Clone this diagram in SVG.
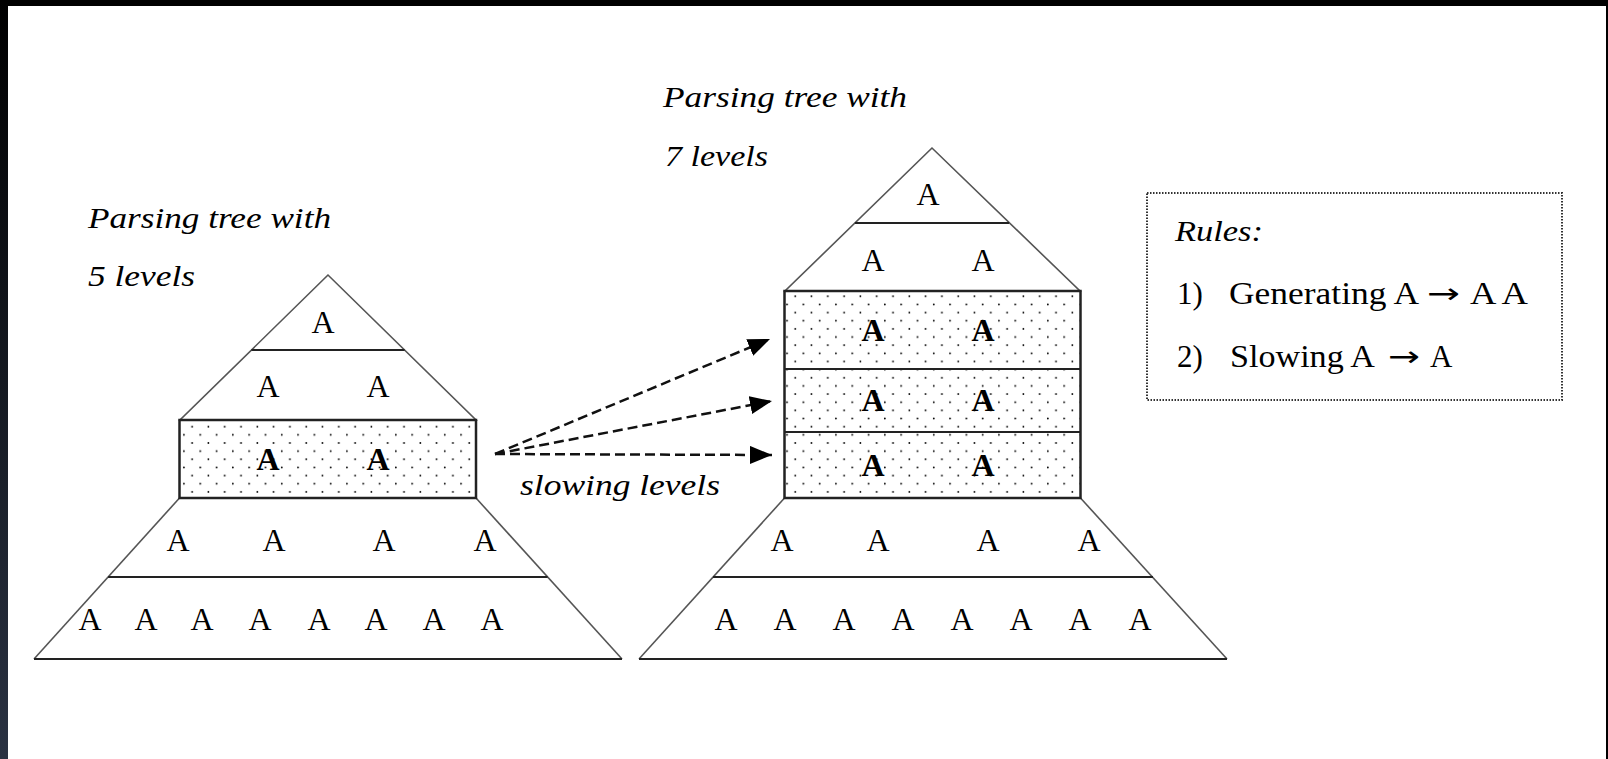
<svg xmlns="http://www.w3.org/2000/svg" width="1608" height="759" viewBox="0 0 1608 759">
<style>
.edge{fill:none;stroke:#555;stroke-width:1.6}
.div{stroke:#222;stroke-width:2.2}
.box{stroke:#222;stroke-width:2.5}
.a{font-family:"Liberation Serif","Times New Roman",serif;font-size:32px;fill:#000;text-anchor:middle}
.ab{font-weight:bold}
.it{font-family:"Liberation Serif","Times New Roman",serif;font-style:italic;font-size:30px;fill:#000}
.rt{font-family:"Liberation Serif","Times New Roman",serif;font-size:31px;fill:#000}
.arr{font-family:"DejaVu Sans",sans-serif;font-size:28px;fill:#000}
.conn{fill:none;stroke:#111;stroke-width:2.5;stroke-dasharray:10 5}
</style>
<defs>
<pattern id="dots" patternUnits="userSpaceOnUse" x="0" y="0" width="16.3" height="16.3">
<circle cx="12.8" cy="2.9" r="0.9" fill="#000"/>
<circle cx="4.65" cy="11.05" r="0.9" fill="#000"/>
</pattern>
<marker id="ah" markerUnits="userSpaceOnUse" markerWidth="22" markerHeight="18" refX="22" refY="9" orient="auto">
<path d="M0,0 L22,9 L0,18 Z" fill="#000"/>
</marker>
<linearGradient id="lg" x1="0" y1="0" x2="0" y2="1">
<stop offset="0" stop-color="#000"/>
<stop offset="1" stop-color="#2a3242"/>
</linearGradient>
</defs>
<rect x="0" y="0" width="1608" height="759" fill="#fff"/>
<rect x="0" y="0" width="1608" height="6" fill="#000"/>
<rect x="0" y="0" width="8" height="759" fill="url(#lg)"/>
<rect x="1606" y="0" width="2" height="759" fill="#000"/>

<g id="tree5">
<polygon class="edge" points="328,275 180,420 476,420"/>
<line class="div" x1="251.4" y1="350" x2="404.6" y2="350"/>
<polyline class="edge" points="179.5,498 34,659"/>
<polyline class="edge" points="476,498 622,659"/>
<line class="div" x1="34" y1="659" x2="622" y2="659"/>
<line class="div" x1="108.1" y1="577" x2="547.6" y2="577"/>
<rect class="box" x="179.5" y="420" width="296.5" height="78" fill="url(#dots)"/>
<text class="a" x="323" y="333">A</text>
<text class="a" x="268" y="397">A</text>
<text class="a" x="378" y="397">A</text>
<text class="a ab" x="268" y="470">A</text>
<text class="a ab" x="378" y="470">A</text>
<text class="a" x="178" y="551">A</text>
<text class="a" x="274" y="551">A</text>
<text class="a" x="384" y="551">A</text>
<text class="a" x="485" y="551">A</text>
<text class="a" x="90" y="630">A</text>
<text class="a" x="146" y="630">A</text>
<text class="a" x="202" y="630">A</text>
<text class="a" x="260" y="630">A</text>
<text class="a" x="319" y="630">A</text>
<text class="a" x="376" y="630">A</text>
<text class="a" x="434" y="630">A</text>
<text class="a" x="492" y="630">A</text>
</g>

<g id="label5">
<text class="it" x="88" y="228" textLength="243" lengthAdjust="spacingAndGlyphs">Parsing tree with</text>
<text class="it" x="88" y="286" textLength="107" lengthAdjust="spacingAndGlyphs">5 levels</text>
</g>

<g id="tree7">
<polygon class="edge" points="932,148 785,291 1080,291"/>
<line class="div" x1="854.9" y1="223" x2="1009.1" y2="223"/>
<polyline class="edge" points="784.5,498 639,659"/>
<polyline class="edge" points="1080.5,498 1227,659"/>
<line class="div" x1="639" y1="659" x2="1227" y2="659"/>
<line class="div" x1="713" y1="577" x2="1153" y2="577"/>
<rect class="box" x="784.5" y="291" width="296" height="207" fill="url(#dots)"/>
<line class="div" x1="784.5" y1="369" x2="1080.5" y2="369"/>
<line class="div" x1="784.5" y1="432" x2="1080.5" y2="432"/>
<text class="a" x="928" y="205">A</text>
<text class="a" x="873" y="271">A</text>
<text class="a" x="983" y="271">A</text>
<text class="a ab" x="873" y="341">A</text>
<text class="a ab" x="983" y="341">A</text>
<text class="a ab" x="873" y="411">A</text>
<text class="a ab" x="983" y="411">A</text>
<text class="a ab" x="873" y="476">A</text>
<text class="a ab" x="983" y="476">A</text>
<text class="a" x="782" y="551">A</text>
<text class="a" x="878" y="551">A</text>
<text class="a" x="988" y="551">A</text>
<text class="a" x="1089" y="551">A</text>
<text class="a" x="726" y="630">A</text>
<text class="a" x="785" y="630">A</text>
<text class="a" x="844" y="630">A</text>
<text class="a" x="903" y="630">A</text>
<text class="a" x="962" y="630">A</text>
<text class="a" x="1021" y="630">A</text>
<text class="a" x="1080" y="630">A</text>
<text class="a" x="1140" y="630">A</text>
</g>

<g id="label7">
<text class="it" x="663" y="107" textLength="244" lengthAdjust="spacingAndGlyphs">Parsing tree with</text>
<text class="it" x="665" y="166" textLength="103" lengthAdjust="spacingAndGlyphs">7 levels</text>
</g>

<g id="rules">
<rect x="1147" y="193" width="415" height="207" fill="none" stroke="#333" stroke-width="2" stroke-dasharray="1.5 1.5"/>
<text class="it" x="1175" y="241" textLength="88" lengthAdjust="spacingAndGlyphs">Rules:</text>
<text class="rt" x="1177" y="304">1)</text>
<text class="rt" x="1229" y="304" textLength="190" lengthAdjust="spacingAndGlyphs">Generating A</text>
<text class="arr" x="1427" y="303" textLength="33" lengthAdjust="spacingAndGlyphs">→</text>
<text class="rt" x="1470" y="304" textLength="58" lengthAdjust="spacingAndGlyphs">A A</text>
<text class="rt" x="1177" y="367">2)</text>
<text class="rt" x="1230" y="367" textLength="145" lengthAdjust="spacingAndGlyphs">Slowing A</text>
<text class="arr" x="1388" y="366" textLength="32" lengthAdjust="spacingAndGlyphs">→</text>
<text class="rt" x="1430" y="367">A</text>
</g>

<g id="connectors">
<line class="conn" x1="495" y1="454" x2="770" y2="339" marker-end="url(#ah)"/>
<line class="conn" x1="495" y1="454" x2="772" y2="401" marker-end="url(#ah)"/>
<line class="conn" x1="495" y1="454" x2="772" y2="455" marker-end="url(#ah)"/>
<text class="it" x="520" y="495" textLength="200" lengthAdjust="spacingAndGlyphs">slowing levels</text>
</g>
</svg>
